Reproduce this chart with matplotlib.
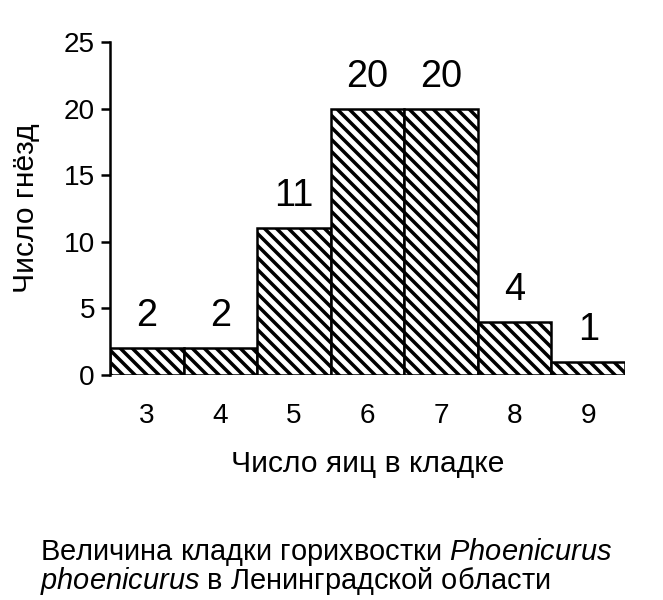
import matplotlib
matplotlib.use("Agg")
import matplotlib.pyplot as plt

categories = [3, 4, 5, 6, 7, 8, 9]
values = [2, 2, 11, 20, 20, 4, 1]
yticks = [0, 5, 10, 15, 20, 25]

plt.rcParams['font.family'] = ['Liberation Sans', 'DejaVu Sans']
plt.rcParams['hatch.linewidth'] = 3.5
plt.rcParams['mathtext.fontset'] = 'custom'
plt.rcParams['mathtext.rm'] = 'Liberation Sans'
plt.rcParams['mathtext.it'] = 'Liberation Sans:italic'

fig = plt.figure(figsize=(663/72, 600/72), dpi=72)
ax = fig.add_axes([110/663, 1-375/600, 515/663, 333/600])

ax.bar(categories, values, width=1.0, color='white', edgecolor='black',
       linewidth=2.5, hatch='\\\\')
for x, v in zip(categories, values):
    ax.annotate(str(v), (x, v), xytext=(0, 14), textcoords='offset points',
                ha='center', va='bottom', fontsize=38)

ax.set_xlim(2.5, 9.5)
ax.set_ylim(0, 25)
ax.set_yticks(yticks)
ax.set_xticks(categories)
ax.tick_params(axis='y', length=9, width=2.5, labelsize=28, pad=6)
ax.tick_params(axis='x', length=0, labelsize=28, pad=28)
for s in ['top', 'right', 'bottom']:
    ax.spines[s].set_visible(False)
ax.spines['left'].set_linewidth(2.5)

ax.set_ylabel('Число гнёзд', fontsize=30)
ax.set_xlabel('Число яиц в кладке', fontsize=30)
ax.yaxis.set_label_coords(-0.136, 0.5)
ax.xaxis.set_label_coords(0.5, -0.225)

fig.text(40/663, 1-552/600, 'Величина кладки горихвостки $\\it{Phoenicurus}$',
         fontsize=29, va='center', ha='left')
fig.text(40/663, 1-581/600, '$\\it{phoenicurus}$ в Ленинградской области',
         fontsize=29, va='center', ha='left')

fig.savefig('out.png', dpi=72, facecolor='white')
